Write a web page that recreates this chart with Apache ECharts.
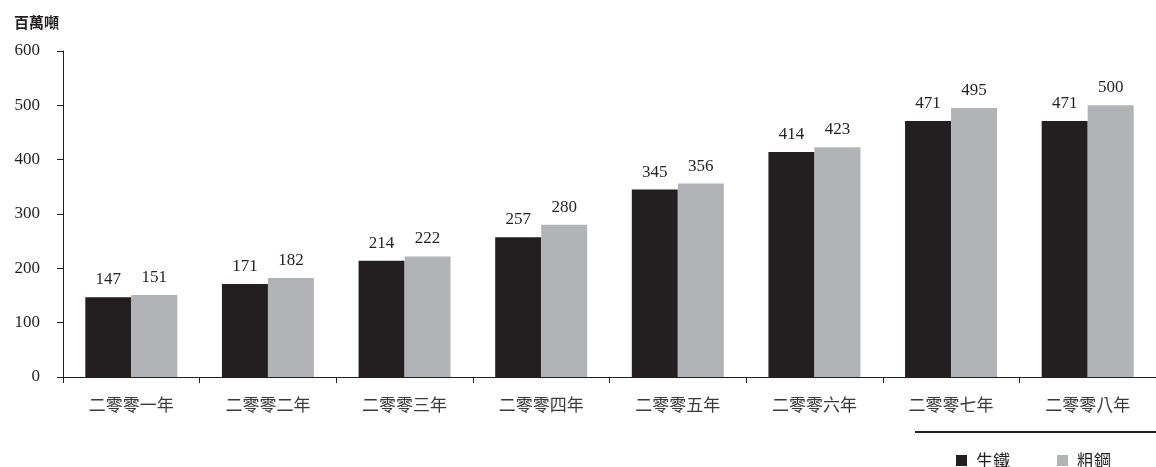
<!DOCTYPE html>
<html>
<head>
<meta charset="utf-8">
<script src="https://cdn.jsdelivr.net/npm/echarts@6/dist/echarts.min.js"></script>
<style>
  html, body { margin: 0; padding: 0; background: #fff; }
  #chart { width: 1156px; height: 467px; }
</style>
</head>
<body>
<div id="chart"></div>
<script>
// Annual output, in million tonnes
const years = ['二零零一年', '二零零二年', '二零零三年', '二零零四年', '二零零五年', '二零零六年', '二零零七年', '二零零八年'];
const pigIron = [147, 171, 214, 257, 345, 414, 471, 471];
const crudeSteel = [151, 182, 222, 280, 356, 423, 495, 500];
const seriesNames = ['生鐵', '粗鋼'];
const unitLabel = '百萬噸';

const DARK = '#231f20';
const GREY = '#b1b3b6';
const SERIF = '"Liberation Serif", "DejaVu Serif", serif';
const CJK = '"Noto Sans CJK TC", "Noto Sans CJK SC", sans-serif';

const chart = echarts.init(document.getElementById('chart'));

const valueLabel = {
  show: true,
  position: 'top',
  distance: 9,
  color: '#231f20',
  fontFamily: SERIF,
  fontSize: 17
};

chart.setOption({
  animation: false,
  backgroundColor: '#fff',
  // plot area runs slightly past the right edge of the canvas
  grid: { left: 63, width: 1098, top: 51, height: 326, containLabel: false },
  title: {
    text: unitLabel,
    left: 9,
    top: 10,
    textStyle: { fontFamily: CJK, fontSize: 15, fontWeight: 'bold', color: '#231f20' }
  },
  legend: {
    data: seriesNames,
    right: 40,
    top: 447,
    itemWidth: 11,
    itemHeight: 11,
    itemGap: 47,
    icon: 'rect',
    textStyle: { fontFamily: CJK, fontSize: 17, color: '#231f20', padding: [0, 0, 0, 4] }
  },
  graphic: [{
    type: 'line',
    shape: { x1: 915, y1: 432, x2: 1156, y2: 432 },
    style: { stroke: '#231f20', lineWidth: 2 }
  }],
  xAxis: {
    type: 'category',
    data: years,
    axisLine: { lineStyle: { color: '#231f20', width: 1 } },
    axisTick: { show: true, length: 6, alignWithLabel: false, lineStyle: { color: '#231f20' } },
    axisLabel: { margin: 19, color: '#3a3a3a', fontFamily: CJK, fontSize: 17 }
  },
  yAxis: {
    type: 'value',
    min: 0,
    max: 600,
    interval: 100,
    splitLine: { show: false },
    axisLine: { show: true, lineStyle: { color: '#231f20', width: 1 } },
    axisTick: { show: true, length: 6, lineStyle: { color: '#231f20' } },
    axisLabel: { margin: 23, color: '#231f20', fontFamily: SERIF, fontSize: 17 }
  },
  series: [
    {
      name: seriesNames[0],
      type: 'bar',
      data: pigIron,
      barWidth: 46,
      barGap: '0%',
      itemStyle: { color: DARK },
      label: valueLabel
    },
    {
      name: seriesNames[1],
      type: 'bar',
      data: crudeSteel,
      barWidth: 46,
      barGap: '0%',
      itemStyle: { color: GREY },
      label: valueLabel
    }
  ]
});
</script>
</body>
</html>
